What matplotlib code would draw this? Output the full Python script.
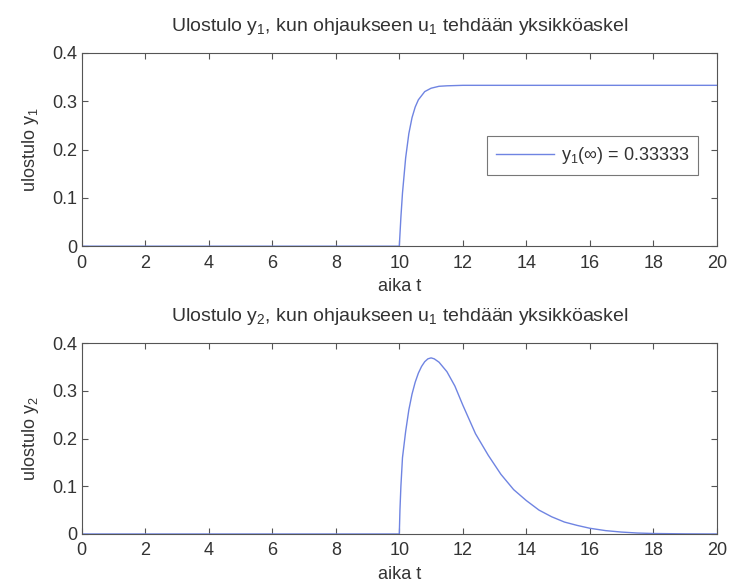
import matplotlib
matplotlib.use("Agg")
import matplotlib.pyplot as plt

plt.rcParams['font.family'] = ['Liberation Sans', 'DejaVu Sans']
plt.rcParams['mathtext.fontset'] = 'custom'
plt.rcParams['mathtext.rm'] = 'Liberation Sans'
plt.rcParams['mathtext.it'] = 'Liberation Sans'

# values
t1 = [0, 10, 10.05, 10.1, 10.2, 10.3, 10.4, 10.5, 10.6, 10.8, 11.0, 11.25, 11.5, 12, 20]
y1 = [0, 0, 0.060, 0.110, 0.183, 0.233, 0.266, 0.288, 0.303, 0.320, 0.327, 0.331, 0.332, 0.333, 0.333]

t2 = [0, 10, 10.02, 10.05, 10.1, 10.2, 10.3, 10.4, 10.5, 10.6, 10.7, 10.8, 10.9, 11.0,
      11.1, 11.25, 11.5, 11.75, 12.0, 12.4, 12.8, 13.2, 13.6, 14.0, 14.4, 14.8, 15.2,
      15.6, 16.0, 16.5, 17.0, 17.5, 18.0, 19.0, 20.0]
y2 = [0, 0, 0.05, 0.10, 0.16, 0.215, 0.26, 0.293, 0.318, 0.337, 0.351, 0.361, 0.367, 0.369,
      0.367, 0.36, 0.34, 0.31, 0.27, 0.21, 0.165, 0.125, 0.093, 0.07, 0.05, 0.036, 0.025,
      0.018, 0.012, 0.007, 0.004, 0.002, 0.001, 0.0003, 0]

xticks = list(range(0, 21, 2))
yticks = [0, 0.1, 0.2, 0.3, 0.4]

line_col = '#6f84e2'
text_col = '#333333'
frame_col = '#555555'
fs = 13


def style_axes(ax):
    ax.set_xlim(0, 20)
    ax.set_ylim(0, 0.4)
    ax.set_xticks(xticks)
    ax.set_yticks(yticks)
    ax.set_yticklabels(['0', '0.1', '0.2', '0.3', '0.4'])
    ax.tick_params(direction='in', top=True, right=True, length=4,
                   labelsize=fs, colors=frame_col, labelcolor=text_col, pad=3)
    ax.tick_params(axis='x', pad=6)
    for s in ax.spines.values():
        s.set_color(frame_col)
        s.set_linewidth(0.8)


fig = plt.figure(figsize=(7.3, 5.82), dpi=100)

ax1 = fig.add_axes([0.112, 0.577, 0.870, 0.332])
ax1.plot(t1, y1, color=line_col, lw=1.0, label=r'y$_1$($\infty$) = 0.33333')
style_axes(ax1)
ax1.set_title(r'Ulostulo y$_1$, kun ohjaukseen u$_1$ tehdään yksikköaskel',
              fontsize=14, color=text_col, pad=16)
ax1.set_xlabel('aika t', fontsize=fs, color=text_col, labelpad=5)
ax1.set_ylabel(r'ulostulo y$_1$', fontsize=fs, color=text_col, labelpad=8)
leg = ax1.legend(loc='center right', bbox_to_anchor=(0.985, 0.47), fontsize=fs,
                 handlelength=3.2, handletextpad=0.4, frameon=True, fancybox=False,
                 borderpad=0.5)
leg.get_frame().set_edgecolor(frame_col)
leg.get_frame().set_linewidth(0.8)
for txt in leg.get_texts():
    txt.set_color(text_col)

ax2 = fig.add_axes([0.112, 0.0825, 0.870, 0.328])
ax2.plot(t2, y2, color=line_col, lw=1.0)
style_axes(ax2)
ax2.set_title(r'Ulostulo y$_2$, kun ohjaukseen u$_1$ tehdään yksikköaskel',
              fontsize=14, color=text_col, pad=16)
ax2.set_xlabel('aika t', fontsize=fs, color=text_col, labelpad=5)
ax2.set_ylabel(r'ulostulo y$_2$', fontsize=fs, color=text_col, labelpad=8)

fig.savefig('out.png', dpi=100)
